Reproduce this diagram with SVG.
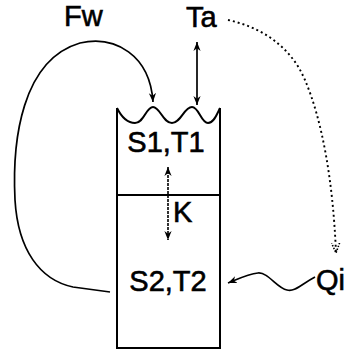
<svg xmlns="http://www.w3.org/2000/svg" width="349" height="351" viewBox="0 0 349 351">
<style>
.lbl{font-family:"Liberation Sans",Arial,sans-serif;font-size:29px;fill:#000;stroke:#000;stroke-width:0.6}
.box{fill:none;stroke:#000;stroke-width:2}
.c{fill:none;stroke:#000;stroke-width:1.7}
.dot{fill:none;stroke:#000;stroke-width:1.9;stroke-dasharray:2 3}
.dk{fill:none;stroke:#000;stroke-width:1.6;stroke-dasharray:3 1}
</style>
<defs>
<marker id="ah" viewBox="0 0 10 10" refX="10" refY="5" markerWidth="9" markerHeight="9" markerUnits="userSpaceOnUse" orient="auto-start-reverse">
<path d="M0,1 L10,5 L0,9 L3,5 Z" fill="#000"/>
</marker>
<marker id="ahd" viewBox="0 0 10 10" refX="10" refY="5" markerWidth="10" markerHeight="10" markerUnits="userSpaceOnUse" orient="auto">
<path d="M0,1 L10,5 L0,9" fill="none" stroke="#000" stroke-width="1.6" stroke-dasharray="1.5 1.5"/>
</marker>
</defs>
<g id="tank">
<path class="box" d="M117,108 C122,118 128,123 135,123 C144,123 146,107 153,107 C160,107 163,123 172,123 C181,123 184,107 192,107 C199,107 201,123 208,123 C214,123 217,114 220,108"/>
<path class="box" d="M117,108 V348 H220 V108"/>
<line class="box" x1="117" y1="195" x2="220" y2="195"/>
</g>
<g id="S1T1"><text class="lbl" x="166" y="152" text-anchor="middle">S1,T1</text></g>
<g id="S2T2"><text class="lbl" x="168" y="291" text-anchor="middle">S2,T2</text></g>
<g id="Fw"><text class="lbl" x="64" y="26">Fw</text></g>
<g id="Ta"><text class="lbl" x="186" y="27">Ta</text></g>
<g id="Qi"><text class="lbl" x="316" y="290">Qi</text></g>
<g id="K"><text class="lbl" x="173" y="222">K</text></g>
<g id="connectors">
<path class="c" marker-end="url(#ah)" d="M110,292 L73,287 C40,280 18,250 15,200 C12,140 22,60 80,43 C115,35 150,55 153,102"/>
<line class="c" marker-start="url(#ah)" marker-end="url(#ah)" x1="197" y1="42" x2="197" y2="105"/>
<path class="dot" marker-end="url(#ahd)" d="M228,20 C260,27 290,45 305,80 C322,120 333,180 336,253"/>
<line class="dk" marker-start="url(#ah)" marker-end="url(#ah)" x1="168" y1="167" x2="168" y2="240"/>
<path class="c" marker-end="url(#ah)" d="M315,277 C300,285 295,292 287,290 C277,288 268,272 258,273 C248,274 238,279 228,283"/>
</g>
</svg>
